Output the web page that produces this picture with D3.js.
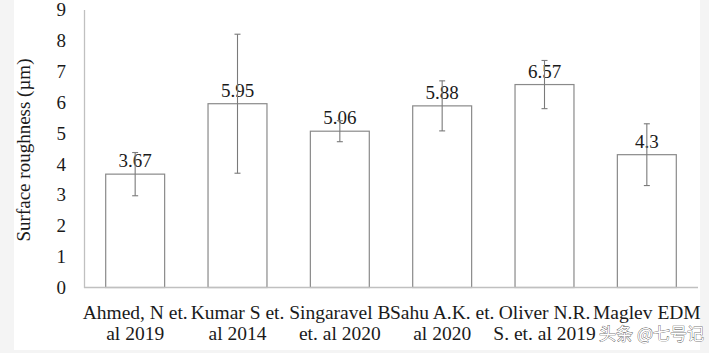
<!DOCTYPE html>
<html>
<head>
<meta charset="utf-8">
<script src="https://cdn.jsdelivr.net/npm/d3@7"></script>
<style>
  body { margin: 0; background: #f4f4f4; }
  svg { display: block; }
</style>
</head>
<body>
<div id="chart"></div>
<script>
// data
var studies = ["Ahmed, N et.|al 2019", "Kumar S et.|al 2014", "Singaravel B|et. al 2020",
               "Sahu A.K. et.|al 2020", "Oliver N.R.|S. et. al 2019", "Maglev EDM|"];
var roughness = [3.67, 5.95, 5.06, 5.88, 6.57, 4.3];
var errors = [0.7, 2.25, 0.34, 0.81, 0.78, 1.0];
var yTicks = [0, 1, 2, 3, 4, 5, 6, 7, 8, 9];

var width = 709, height = 353;
var margin = { left: 84, right: 11, top: 9.5, bottom: 65.5 };
var serif = "'Liberation Serif', 'Times New Roman', serif";

var svg = d3.select('#chart').append('svg')
    .attr('width', width)
    .attr('height', height);

// white page area
svg.append('rect')
    .attr('x', 14).attr('y', 0)
    .attr('width', 686).attr('height', 350)
    .attr('fill', '#ffffff');

var x = d3.scaleBand()
    .domain(studies)
    .range([margin.left, width - margin.right])
    .paddingInner(0.424)
    .paddingOuter(0.212);

var y = d3.scaleLinear()
    .domain([0, 9])
    .range([height - margin.bottom, margin.top]);

// y axis: line + labels, no tick marks
var yAxis = svg.append('g')
    .attr('transform', 'translate(' + margin.left + ',0)')
    .call(d3.axisLeft(y).tickValues(yTicks).tickSize(0).tickPadding(18).tickFormat(d3.format('d')));
yAxis.select('.domain').attr('stroke', '#c0c0c0').attr('stroke-width', 1.3);
yAxis.selectAll('text')
    .style('font-family', serif)
    .style('font-size', '19px')
    .attr('fill', '#1a1a1a');

// bars
svg.selectAll('.bar')
    .data(roughness)
    .enter().append('rect')
    .attr('class', 'bar')
    .attr('x', function(d, i) { return x(studies[i]); })
    .attr('y', function(d) { return y(d); })
    .attr('width', x.bandwidth())
    .attr('height', function(d) { return y(0) - y(d); })
    .attr('fill', '#ffffff')
    .attr('stroke', '#8a8a8a')
    .attr('stroke-width', 1.2);

// x axis line, drawn over bar bottoms
svg.append('line')
    .attr('x1', margin.left).attr('x2', width - margin.right)
    .attr('y1', y(0)).attr('y2', y(0))
    .attr('stroke', '#c0c0c0')
    .attr('stroke-width', 1.3);

// value labels
svg.selectAll('.val')
    .data(roughness)
    .enter().append('text')
    .attr('class', 'val')
    .attr('x', function(d, i) { return x(studies[i]) + x.bandwidth() / 2; })
    .attr('y', function(d) { return y(d) - 7; })
    .attr('text-anchor', 'middle')
    .style('font-family', serif)
    .style('font-size', '19px')
    .attr('fill', '#1a1a1a')
    .text(function(d) { return d; });

// error bars
var err = svg.selectAll('.err')
    .data(roughness)
    .enter().append('g')
    .attr('class', 'err')
    .attr('stroke', '#7a7a7a')
    .attr('stroke-width', 1.1);
err.append('line')
    .attr('x1', function(d, i) { return x(studies[i]) + x.bandwidth() / 2; })
    .attr('x2', function(d, i) { return x(studies[i]) + x.bandwidth() / 2; })
    .attr('y1', function(d, i) { return y(d + errors[i]); })
    .attr('y2', function(d, i) { return y(d - errors[i]); });
[1, -1].forEach(function(s) {
    err.append('line')
        .attr('x1', function(d, i) { return x(studies[i]) + x.bandwidth() / 2 - 3; })
        .attr('x2', function(d, i) { return x(studies[i]) + x.bandwidth() / 2 + 3; })
        .attr('y1', function(d, i) { return y(d + s * errors[i]); })
        .attr('y2', function(d, i) { return y(d + s * errors[i]); });
});

// category labels, two lines each
var cat = svg.selectAll('.cat')
    .data(studies)
    .enter().append('text')
    .attr('class', 'cat')
    .attr('text-anchor', 'middle')
    .style('font-family', serif)
    .style('font-size', '19.5px')
    .attr('fill', '#1a1a1a');
cat.append('tspan')
    .attr('x', function(d) { return x(d) + x.bandwidth() / 2; })
    .attr('y', 319)
    .text(function(d) { return d.split('|')[0]; });
cat.append('tspan')
    .attr('x', function(d) { return x(d) + x.bandwidth() / 2; })
    .attr('y', 340)
    .text(function(d) { return d.split('|')[1]; });

// y axis title
svg.append('text')
    .attr('transform', 'translate(30,' + 150 + ') rotate(-90)')
    .attr('text-anchor', 'middle')
    .style('font-family', serif)
    .style('font-size', '19px')
    .attr('fill', '#1a1a1a')
    .text('Surface roughness (µm)');

// watermark
svg.append('text')
    .attr('x', 704)
    .attr('y', 340)
    .attr('text-anchor', 'end')
    .style('font-family', "'Noto Sans CJK SC', sans-serif")
    .style('font-size', '17px')
    .attr('fill', '#ffffff')
    .attr('stroke', '#444')
    .attr('stroke-width', 0.7)
    .attr('paint-order', 'stroke')
    .text('头条 @七号记');
</script>
</body>
</html>
